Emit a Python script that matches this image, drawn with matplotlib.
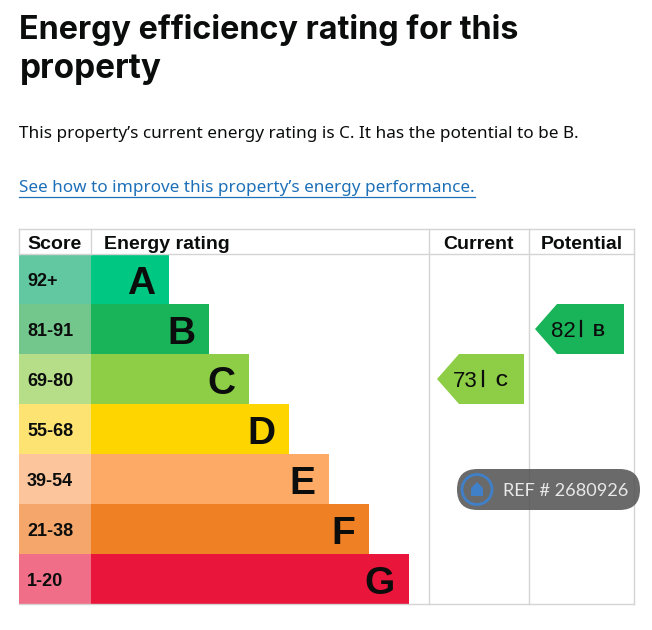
import matplotlib.pyplot as plt
from matplotlib.patches import Polygon, FancyBboxPatch, Circle

# data
bands = ["A", "B", "C", "D", "E", "F", "G"]
score_ranges = ["92+", "81-91", "69-80", "55-68", "39-54", "21-38", "1-20"]
band_lows = [92, 81, 69, 55, 39, 21, 1]
band_colors = ["#00c781", "#19b459", "#8dce46", "#ffd500", "#fcaa65", "#ef8023", "#e9153b"]
score_colors = ["#62c8a1", "#74c78c", "#b6de89", "#fde372", "#fdc59b", "#f4a66b", "#f06e88"]
current_score = 73
potential_score = 82
ref_text = "REF # 2680926"

title_lines = ["Energy efficiency rating for this", "property"]
summary = "This property\u2019s current energy rating is C. It has the potential to be B."
link = "See how to improve this property\u2019s energy performance."


def band_of(score):
    for i, low in enumerate(band_lows):
        if score >= low:
            return i
    return len(bands) - 1


# layout (pixels)
W, H = 652, 630
left, right = 19, 634
score_x, cur_x, pot_x = 91, 429, 529
head_top, head_bot = 229, 254
row_h = 50
grid = "#d4d4d4"

fig = plt.figure(figsize=(W / 100, H / 100), dpi=100)
ax = fig.add_axes([0, 0, 1, 1])
ax.set_xlim(0, W)
ax.set_ylim(H, 0)
ax.axis("off")


def fit_text(x, y, s, width, size, **kw):
    # shrink/grow font so the text spans the same width as in the page
    t = ax.text(x, y, s, fontsize=size, va="baseline", ha="left", **kw)
    fig.canvas.draw()
    bb = t.get_window_extent()
    t.set_fontsize(size * width / bb.width)
    return t


# heading text
tkw = dict(fontweight="bold", family="Inter", color="#0b0c0c")
fit_text(left, 39.5, title_lines[0], 501, 24, **tkw)
fit_text(left + 1, 78, title_lines[1], 142, 24, **tkw)
fit_text(left, 137.5, summary, 558, 13, family="Noto Sans", color="#0b0c0c")
lnk = fit_text(left, 192.5, link, 455, 13, family="Noto Sans", color="#1d70b8")
fig.canvas.draw()
bb = lnk.get_window_extent().transformed(ax.transData.inverted())
ax.plot([left, bb.x1], [196.5, 196.5], color="#1d70b8", lw=0.9)

# table bars
n = len(bands)
rows = [head_bot + row_h * (i + 0.5) for i in range(n)]
bar_w = [78 + 40 * i for i in range(n)]
ax.barh(rows, [score_x - left] * n, left=left, height=row_h, color=score_colors, linewidth=0)
ax.barh(rows, bar_w, left=score_x, height=row_h, color=band_colors, linewidth=0)

for i in range(n):
    ax.text(27, rows[i], score_ranges[i], fontsize=13, fontweight="bold",
            family="Liberation Sans", va="center_baseline", ha="left", color="#0b0c0c")
    ax.text(score_x + bar_w[i] - 14, rows[i] + 1, bands[i], fontsize=28, fontweight="bold",
            family="Liberation Sans", va="center_baseline", ha="right", color="#0b0c0c")

# grid lines
bottom = head_bot + row_h * n
lw = 1.0
ax.plot([left, right], [head_top, head_top], color=grid, lw=lw)
ax.plot([left, right], [head_bot, head_bot], color=grid, lw=lw)
ax.plot([left, right], [bottom, bottom], color=grid, lw=lw)
ax.plot([left, left], [head_top, head_bot], color=grid, lw=lw)
ax.plot([score_x, score_x], [head_top, head_bot], color=grid, lw=lw)
for x in (cur_x, pot_x, right):
    ax.plot([x, x], [head_top, bottom], color=grid, lw=lw)

# headers
hdr = dict(fontsize=14, fontweight="bold", family="Liberation Sans", va="baseline", color="#0b0c0c")
ax.text(27, 249, "Score", ha="left", **hdr)
ax.text(104, 249, "Energy rating", ha="left", **hdr)
ax.text((cur_x + pot_x) / 2, 249, "Current", ha="center", **hdr)
ax.text((pot_x + right) / 2, 249, "Potential", ha="center", **hdr)


# rating arrows
def arrow(x0, x1, score):
    i = band_of(score)
    y0, y1 = head_bot + row_h * i, head_bot + row_h * (i + 1)
    ym = (y0 + y1) / 2
    pts = [(x0, ym), (x0 + 22, y0), (x1, y0), (x1, y1), (x0 + 22, y1)]
    ax.add_patch(Polygon(pts, closed=True, color=band_colors[i], lw=0))
    ax.text(x0 + 16, ym + 8, str(score), fontsize=16, family="Liberation Sans",
            va="baseline", ha="left", color="#0b0c0c")
    ax.plot([x0 + 46, x0 + 46], [ym - 8, ym + 7], color="#0b0c0c", lw=1.6)
    ax.text(x0 + 64, ym + 7, bands[i], fontsize=12, fontweight="bold",
            family="Liberation Sans", va="baseline", ha="center", color="#0b0c0c")


arrow(437, 524, current_score)
arrow(535, 624, potential_score)

# watermark
ax.add_patch(FancyBboxPatch((457, 469), 183, 41, boxstyle="round,pad=0,rounding_size=20.5",
                            fc="#555555", ec="none", alpha=0.88, zorder=5))
ax.add_patch(Circle((477, 489.5), 15, fc="none", ec="#3f80c8", lw=2, zorder=6))
ax.add_patch(Polygon([(471, 496), (471, 488), (477, 482), (483, 488), (483, 496)],
                     closed=True, fc="#3f80c8", ec="none", zorder=6))
wm = fit_text(503, 496, ref_text, 125, 13, family="Lato", color="#e8e8e8", zorder=6)

fig.savefig("out.png", dpi=100)
